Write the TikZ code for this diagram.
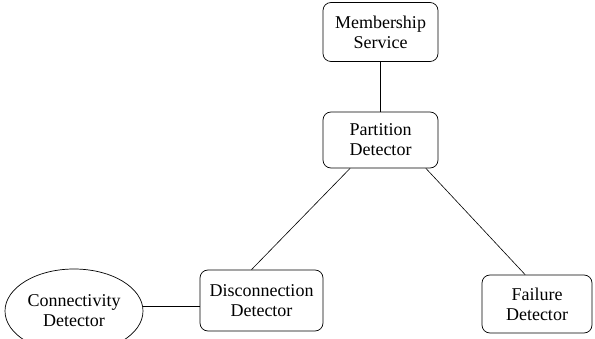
\documentclass[tikz,border=0pt]{standalone}
\usepackage{fontspec}
\setmainfont{Liberation Serif}
\usetikzlibrary{shapes.geometric}
\tikzset{
block/.style={draw, rounded corners=8pt, align=center, line width=0.7pt,
  font=\fontsize{18}{20}\selectfont, inner sep=0pt},
blob/.style={draw, ellipse, align=center, line width=0.7pt,
  font=\fontsize{18}{20}\selectfont, inner sep=0pt},
}

\begin{document}
\begin{tikzpicture}[x=1pt,y=1pt]
\useasboundingbox (0,0) rectangle (595,338);

%components
\node[block, minimum width=115pt, minimum height=59pt] (ms) at (380.5,306) {Membership\\Service};
\node[block, minimum width=115pt, minimum height=56pt] (pd) at (380.5,198) {Partition\\Detector};
\node[block, minimum width=123pt, minimum height=61pt] (dd) at (261.5,37.5) {Disconnection\\Detector};
\node[block, minimum width=110pt, minimum height=58pt] (fd) at (537,34) {Failure\\Detector};
\node[blob, minimum width=138pt, minimum height=84pt] (cd) at (74,27) {Connectivity\\Detector};

%links
\draw[line width=0.6pt] (ms) -- (pd);
\draw[line width=0.6pt] (pd.223) -- (dd.108);
\draw[line width=0.6pt] (pd.328) -- (fd.112);
\draw[line width=0.6pt] (cd.east |- 0,32) -- (dd.west |- 0,32);
\end{tikzpicture}
\end{document}
